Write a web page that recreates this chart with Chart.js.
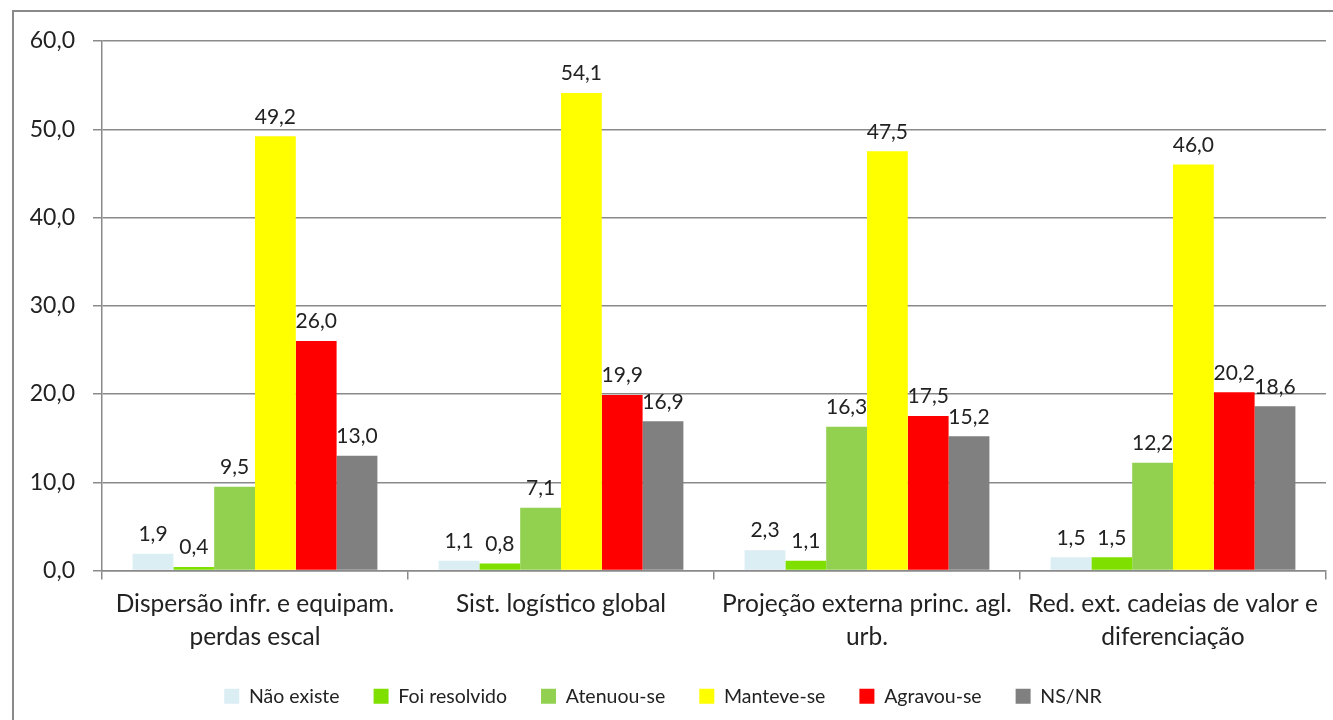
<!DOCTYPE html>
<html>
<head>
<meta charset="utf-8">
<script src="https://cdn.jsdelivr.net/npm/chart.js@4/dist/chart.umd.min.js"></script>
<style>
  html, body { margin: 0; padding: 0; background: #fff; }
  #wrap { width: 1333px; height: 720px; position: relative; }
</style>
</head>
<body>
<div id="wrap"><canvas id="Chart" width="1333" height="720"></canvas></div>
<script>
const categories = [
  ['Dispersão infr. e equipam.', 'perdas escal'],
  'Sist. logístico global',
  ['Projeção externa princ. agl.', 'urb.'],
  ['Red. ext. cadeias de valor e', 'diferenciação']
];
const seriesNames = ['Não existe', 'Foi resolvido', 'Atenuou-se', 'Manteve-se', 'Agravou-se', 'NS/NR'];
const naoExiste = [1.9, 1.1, 2.3, 1.5];
const foiResolvido = [0.4, 0.8, 1.1, 1.5];
const atenuou = [9.5, 7.1, 16.3, 12.2];
const manteve = [49.2, 54.1, 47.5, 46.0];
const agravou = [26.0, 19.9, 17.5, 20.2];
const nsnr = [13.0, 16.9, 15.2, 18.6];
const colors = ['#dbeef4', '#7fe000', '#92d050', '#ffff00', '#ff0000', '#808080'];

const fmt = v => v.toFixed(1).replace('.', ',');
const fontFam = 'Lato, "Open Sans", sans-serif';

// values above bars
const valueLabels = {
  id: 'valueLabels',
  afterDatasetsDraw(chart) {
    const ctx = chart.ctx;
    ctx.save();
    ctx.fillStyle = '#222';
    ctx.font = '21px ' + fontFam;
    ctx.textAlign = 'center';
    ctx.textBaseline = 'bottom';
    chart.data.datasets.forEach((ds, i) => {
      chart.getDatasetMeta(i).data.forEach((bar, j) => {
        ctx.fillText(fmt(ds.data[j]), bar.x, bar.y - 9);
      });
    });
    ctx.restore();
  }
};

// outer frame
const frame = {
  id: 'frame',
  beforeDraw(chart) {
    const ctx = chart.ctx;
    ctx.save();
    ctx.strokeStyle = '#8a8a8a';
    ctx.lineWidth = 2;
    ctx.strokeRect(13, 11, 1340, 730);
    ctx.restore();
  }
};

const sets = [naoExiste, foiResolvido, atenuou, manteve, agravou, nsnr];

new Chart(document.getElementById('Chart'), {
  type: 'bar',
  data: {
    labels: categories,
    datasets: sets.map((d, i) => ({
      label: seriesNames[i],
      data: d,
      backgroundColor: colors[i],
      borderWidth: 0,
      categoryPercentage: 0.8,
      barPercentage: 1.0
    }))
  },
  options: {
    responsive: false,
    animation: false,
    layout: { padding: { top: 41, right: 7, bottom: 4, left: 0 } },
    plugins: {
      legend: {
        position: 'bottom',
        labels: {
          boxWidth: 15,
          boxHeight: 15,
          padding: 34,
          color: '#222',
          font: { family: fontFam, size: 19.5 }
        }
      },
      tooltip: { enabled: false }
    },
    scales: {
      x: {
        afterFit(scale) { scale.height = 82; },
        grid: { offset: true, drawOnChartArea: false, color: '#8a8a8a', lineWidth: 1.5, tickLength: 9 },
        border: { color: '#8a8a8a', width: 1.5 },
        ticks: { color: '#222', font: { family: fontFam, size: 24.5, lineHeight: 1.35 }, maxRotation: 0, autoSkip: false, padding: 8 }
      },
      y: {
        min: 0,
        max: 60,
        afterFit(scale) { scale.width = 102; },
        grid: { color: '#8a8a8a', lineWidth: 1.5, tickLength: 9 },
        border: { color: '#8a8a8a', width: 1.5 },
        ticks: {
          stepSize: 10,
          color: '#222',
          padding: 18,
          font: { family: fontFam, size: 23 },
          callback: v => fmt(v)
        }
      }
    }
  },
  plugins: [valueLabels, frame]
});
</script>
</body>
</html>
